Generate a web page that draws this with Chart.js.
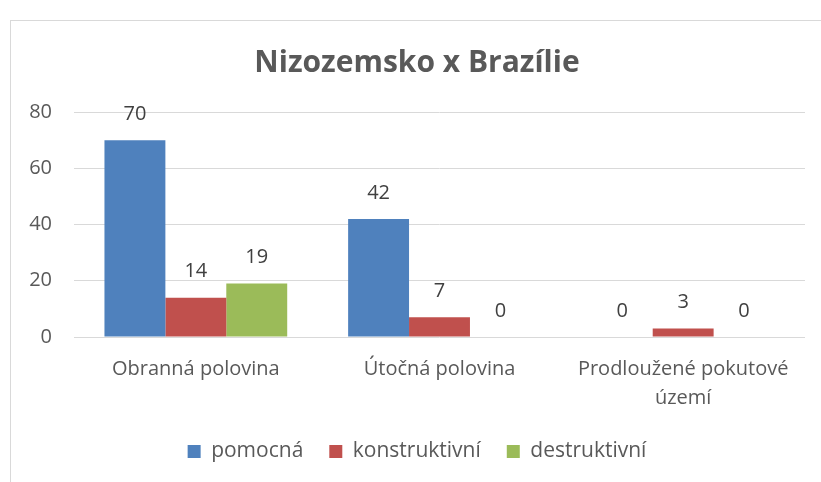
<!DOCTYPE html>
<html lang="cs">
<head>
    <meta charset="UTF-8">
    <title>Nizozemsko x Brazílie</title>
    <script src="https://cdn.jsdelivr.net/npm/chart.js"></script>
    <style>
        body { margin: 0; background: #fff; }
        #wrap { position: relative; width: 821px; height: 482px; }
        #frame {
            position: absolute; left: 10px; top: 20px; right: 0; bottom: 0;
            border-left: 1px solid #d9d9d9; border-top: 1px solid #d9d9d9;
        }
        canvas { position: absolute; left: 0; top: 0; }
    </style>
</head>
<body>
    <div id="wrap">
        <div id="frame"></div>
        <canvas id="chart" width="821" height="482"></canvas>
    </div>

    <script>
        const categories = ['Obranná polovina', 'Útočná polovina', ['Prodloužené pokutové', 'území']];
        const seriesNames = ['pomocná', 'konstruktivní', 'destruktivní'];
        const pomocna = [70, 42, 0];
        const konstruktivni = [14, 7, 3];
        const destruktivni = [19, 0, 0];
        const yTicks = [0, 20, 40, 60, 80];

        const colors = ['#4f81bd', '#c0504d', '#9bbb59'];
        const font = "'Open Sans', 'Noto Sans', sans-serif";

        // popisky hodnot nad sloupci
        const valueLabels = {
            id: 'valueLabels',
            afterDatasetsDraw(chart) {
                const ctx = chart.ctx;
                ctx.save();
                ctx.font = '20px ' + font;
                ctx.fillStyle = '#404040';
                ctx.textAlign = 'center';
                ctx.textBaseline = 'middle';
                chart.data.datasets.forEach((ds, i) => {
                    chart.getDatasetMeta(i).data.forEach((bar, j) => {
                        ctx.fillText(ds.data[j], bar.x, bar.y - 26);
                    });
                });
                ctx.restore();
            }
        };

        new Chart(document.getElementById('chart'), {
            type: 'bar',
            data: {
                labels: categories,
                datasets: [
                    { label: seriesNames[0], data: pomocna, backgroundColor: colors[0] },
                    { label: seriesNames[1], data: konstruktivni, backgroundColor: colors[1] },
                    { label: seriesNames[2], data: destruktivni, backgroundColor: colors[2] }
                ]
            },
            options: {
                responsive: false,
                animation: false,
                events: [],
                layout: { padding: { left: 29, right: 16, top: 24, bottom: 10 } },
                datasets: { bar: { categoryPercentage: 0.75, barPercentage: 1 } },
                scales: {
                    x: {
                        grid: { display: false },
                        border: { display: false },
                        afterFit(axis) { axis.height = 78; },
                        ticks: {
                            color: '#595959',
                            font: { family: font, size: 20, lineHeight: 1.45 },
                            maxRotation: 0,
                            padding: 10
                        }
                    },
                    y: {
                        min: 0,
                        max: 80,
                        afterBuildTicks(axis) { axis.ticks = yTicks.map(v => ({ value: v })); },
                        afterFit(axis) { axis.width = 45; },
                        grid: { color: '#d9d9d9', lineWidth: 1, drawTicks: false },
                        border: { display: false },
                        ticks: {
                            color: '#595959',
                            font: { family: font, size: 20 },
                            padding: 22
                        }
                    }
                },
                plugins: {
                    title: {
                        display: true,
                        text: 'Nizozemsko x Brazílie',
                        color: '#595959',
                        font: { family: font, size: 30, weight: 'bold' },
                        padding: { top: 21, bottom: 31 }
                    },
                    legend: {
                        position: 'bottom',
                        padding: 2,
                        labels: {
                            color: '#595959',
                            font: { family: font, size: 21 },
                            boxWidth: 13,
                            boxHeight: 13,
                            padding: 26
                        }
                    },
                    tooltip: { enabled: false }
                }
            },
            plugins: [valueLabels]
        });
    </script>
</body>
</html>
